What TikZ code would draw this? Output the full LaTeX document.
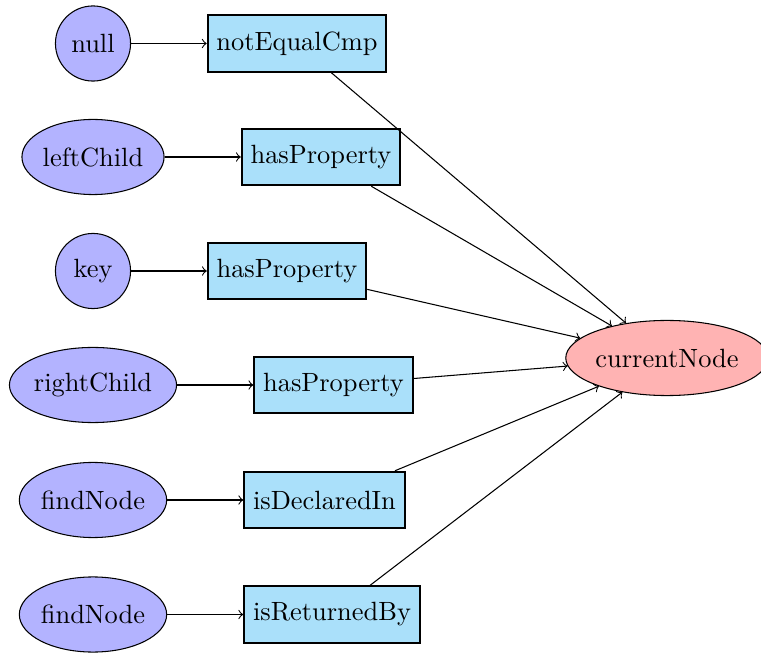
\documentclass[tikz,border=0pt]{standalone}
\usetikzlibrary{shapes.geometric}
\definecolor{srcfill}{RGB}{179,179,255}
\definecolor{opfill}{RGB}{170,224,250}
\definecolor{targetfill}{RGB}{255,179,179}
\tikzset{
  srcnode/.style={ellipse, draw, fill=srcfill, inner sep=0pt, minimum width=1cm, minimum height=1cm},
  opnode/.style={rectangle, draw, thick, fill=opfill, minimum height=0.75cm},
  targetnode/.style={ellipse, draw, fill=targetfill, inner sep=0pt, minimum width=1cm, minimum height=1cm},
  link/.style={->}
}
\begin{document}
\begin{tikzpicture}[x=0.3788pt, y=-0.3788pt]
  \useasboundingbox (0,0) rectangle (761,653);
  % source values
  \node[srcnode] (s1) at (93,43.5) {null};
  \node[srcnode] (s2) at (93,157) {leftChild};
  \node[srcnode] (s3) at (93,271) {key};
  \node[srcnode] (s4) at (93,385) {rightChild};
  \node[srcnode] (s5) at (93,500) {findNode};
  \node[srcnode] (s6) at (93,614.5) {findNode};
  % operations
  \node[opnode] (o1) at (297,43.5) {notEqualCmp};
  \node[opnode] (o2) at (321,157) {hasProperty};
  \node[opnode] (o3) at (287,271) {hasProperty};
  \node[opnode] (o4) at (333.5,385) {hasProperty};
  \node[opnode] (o5) at (324.5,500) {isDeclaredIn};
  \node[opnode] (o6) at (332,614.5) {isReturnedBy};
  % target
  \node[targetnode] (t) at (667,358) {currentNode};
  % connectors
  \foreach \i in {1,...,6} {
    \draw[link] (s\i) -- (o\i);
    \draw[link] (o\i) -- (t);
  }
\end{tikzpicture}
\end{document}
